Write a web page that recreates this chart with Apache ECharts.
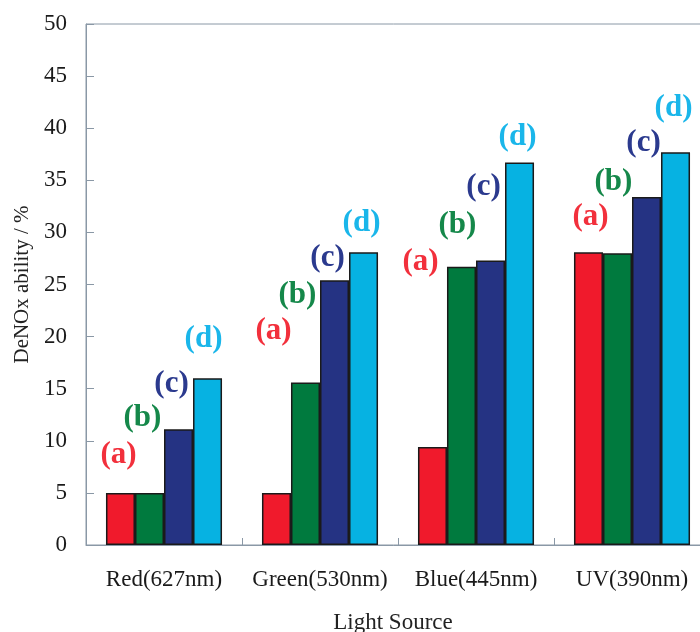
<!DOCTYPE html>
<html>
<head>
<meta charset="utf-8">
<script src="https://cdn.jsdelivr.net/npm/echarts@6/dist/echarts.min.js"></script>
<style>html,body{margin:0;padding:0;background:#fff;}#main{width:700px;height:632px;}</style>
</head>
<body>
<div id="main"></div>
<script>
// ---- data ----
var categories = ['Red(627nm)', 'Green(530nm)', 'Blue(445nm)', 'UV(390nm)'];
var seriesNames = ['(a)', '(b)', '(c)', '(d)'];
var valuesA = [5.0, 5.0, 9.4, 28.1];
var valuesB = [5.0, 15.6, 26.7, 28.0];
var valuesC = [11.1, 25.4, 27.3, 33.4];
var valuesD = [16.0, 28.1, 36.7, 37.7];
// heights (in % units) at which the (a)-(d) annotations sit above each group
var labelLevelA = [8.6, 20.5, 27.2, 31.5];
var labelLevelB = [12.2, 24.0, 30.7, 34.8];
var labelLevelC = [15.5, 27.5, 34.4, 38.6];
var labelLevelD = [19.8, 30.9, 39.2, 41.9];
var yTicks = [0, 5, 10, 15, 20, 25, 30, 35, 40, 45, 50];

// ---- styles ----
var barColors = ['#f01a2c', '#007a3e', '#253383', '#06b2e2'];
var labelColors = ['#f2303c', '#15884a', '#2b3a8e', '#1ab6ea'];
var labelShiftX = [[-2, -3, -12, 2], [-7, -8, -4, -4], [-7, -7, -7, -3], [-4, -2, -2, -2]];
var serif = '"Liberation Serif", "DejaVu Serif", serif';
var axisColor = '#8a98a6';

var values = [valuesA, valuesB, valuesC, valuesD];
var levels = [labelLevelA, labelLevelB, labelLevelC, labelLevelD];

var series = values.map(function (vals, s) {
  return {
    name: seriesNames[s],
    type: 'bar',
    data: vals,
    barGap: '0%',
    barCategoryGap: '25.6%',
    itemStyle: { color: barColors[s], borderColor: '#1a1a1a', borderWidth: 1.5 },
    markPoint: {
      symbol: 'circle',
      symbolSize: 1,
      itemStyle: { color: 'transparent' },
      label: {
        show: true,
        position: 'inside',
        formatter: seriesNames[s],
        color: labelColors[s],
        fontFamily: serif,
        fontWeight: 'bold',
        fontSize: 31
      },
      data: levels[s].map(function (lv, i) {
        return {
          coord: [i, lv],
          label: { offset: [labelShiftX[s][i], 0] }
        };
      })
    }
  };
});

var chart = echarts.init(document.getElementById('main'), null, { renderer: 'canvas' });
chart.setOption({
  animation: false,
  backgroundColor: '#ffffff',
  grid: {
    left: 86, top: 24, width: 624, bottom: 87,
    outerBoundsMode: 'none',
    containLabel: false,
    show: true, borderColor: axisColor, borderWidth: 1, backgroundColor: 'transparent'
  },
  xAxis: {
    type: 'category',
    data: categories,
    name: 'Light Source',
    nameLocation: 'middle',
    nameGap: 66,
    nameTextStyle: { fontFamily: serif, fontSize: 23, color: '#222', padding: [0, 10, 0, 0] },
    axisLine: { lineStyle: { color: axisColor, width: 1 } },
    axisTick: { show: true, inside: true, length: 7, interval: 0, lineStyle: { color: axisColor } },
    axisLabel: { interval: 0, fontFamily: serif, fontSize: 23, color: '#1a1a1a', margin: 23 },
    splitLine: { show: false }
  },
  yAxis: {
    type: 'value',
    min: yTicks[0],
    max: yTicks[yTicks.length - 1],
    interval: yTicks[1] - yTicks[0],
    name: 'DeNOx ability / %',
    nameLocation: 'middle',
    nameGap: 53,
    nameTextStyle: { fontFamily: serif, fontSize: 21, color: '#222' },
    axisLine: { show: true, lineStyle: { color: axisColor, width: 1 } },
    axisTick: { show: true, inside: true, length: 8, lineStyle: { color: axisColor } },
    axisLabel: { fontFamily: serif, fontSize: 23, color: '#1a1a1a', margin: 19 },
    splitLine: { show: false }
  },
  series: series
});
</script>
</body>
</html>
